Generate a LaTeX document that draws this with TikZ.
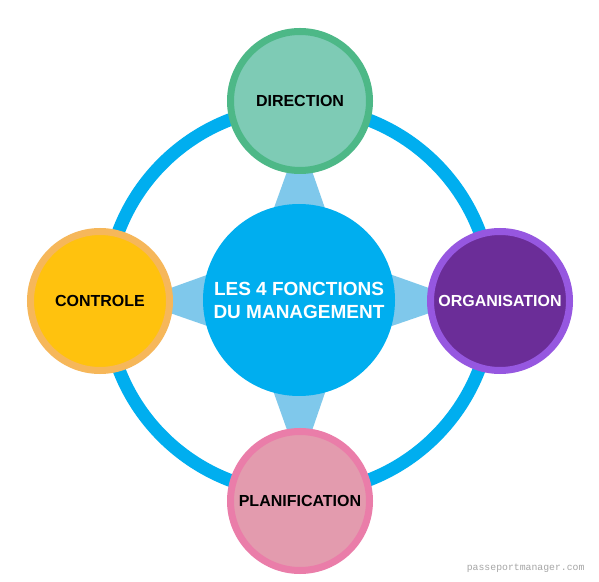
\documentclass[tikz,border=0pt]{standalone}
\usepackage{fontspec}
\setmainfont{Liberation Sans}
\newfontfamily\creditfont{Liberation Mono}
\usetikzlibrary{calc, backgrounds}
\definecolor{ringblue}{RGB}{0, 174, 239}
\definecolor{spokeblue}{RGB}{127, 200, 235}
\definecolor{dirfill}{RGB}{126, 203, 181}
\definecolor{dirdraw}{RGB}{77, 184, 135}
\definecolor{ctlfill}{RGB}{255, 194, 14}
\definecolor{ctldraw}{RGB}{246, 183, 90}
\definecolor{orgfill}{RGB}{107, 45, 152}
\definecolor{orgdraw}{RGB}{150, 87, 224}
\definecolor{plafill}{RGB}{227, 155, 174}
\definecolor{pladraw}{RGB}{234, 125, 169}

\begin{document}
\begin{tikzpicture}[
    x=1pt, y=1pt,
    hub/.style={circle, fill=ringblue, minimum size=192pt, inner sep=0pt,
                align=center, text=white, font=\bfseries\fontsize{19}{23}\selectfont},
    func/.style={circle, line width=7pt, minimum size=139pt, inner sep=0pt,
                 font=\bfseries\fontsize{16}{18}\selectfont},
    spoke/.style={fill=spokeblue},
    ring/.style={draw=ringblue, line width=13pt}
]

\useasboundingbox (0,0) rectangle (599,581);

% Centre
\node[hub] (hub) at (299,281) {LES 4 FONCTIONS\\DU MANAGEMENT};

% Four functions
\node[func, fill=dirfill, draw=dirdraw] (direction) at (300,480) {DIRECTION};
\node[func, fill=ctlfill, draw=ctldraw] (controle) at (100,280) {CONTROLE};
\node[func, fill=orgfill, draw=orgdraw, text=white] (organisation) at (500,280) {ORGANISATION};
\node[func, fill=plafill, draw=pladraw] (planification) at (300,80) {PLANIFICATION};

% Ring and spokes behind
\begin{scope}[on background layer]
\fill[white] (0,0) rectangle (599,581);
\draw[ring] (hub.center) circle (193pt);
\foreach \f in {direction, controle, organisation, planification}
    \fill[spoke] ($(hub.center)!58pt!90:(\f.center)$)
        -- ($(\f.center)!35pt!(hub.center)$)
        -- ($(hub.center)!58pt!-90:(\f.center)$) -- cycle;
\end{scope}

\node[font=\creditfont\fontsize{9.8}{10}\selectfont, text=black!35, anchor=base east]
    (credit) at (588,11) {passeportmanager.com};

\end{tikzpicture}
\end{document}
